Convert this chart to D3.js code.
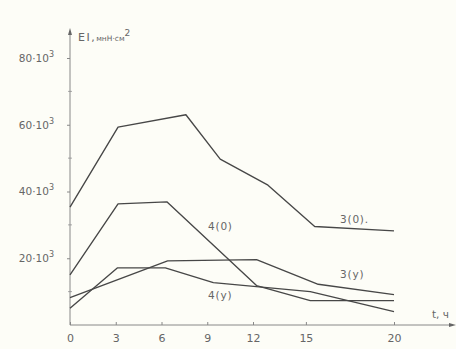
<!DOCTYPE html>
<html>
<head>
<meta charset="utf-8">
<script src="https://cdn.jsdelivr.net/npm/d3@7/dist/d3.min.js"></script>
<style>
  body { margin: 0; background: #fdfdf7; }
  svg { display: block; background: #fdfdf7; }
  text { font-family: "DejaVu Sans", sans-serif; fill: #666; }
  .axis path, .axis line { stroke: #888; stroke-width: 1; }
  .curve { fill: none; stroke: #474747; stroke-width: 1.35; stroke-linejoin: round; }
</style>
</head>
<body>
<svg width="456" height="349"></svg>
<script>
// values (t in hours, EI in 10^3 мнН·см²)
const xTicks = [0, 3, 6, 9, 12, 15, 20];
const yTicks = [20, 40, 60, 80];
const yMinor = [10, 30, 50, 70];

const t3o = [0, 3.15, 7.6, 9.85, 12.85, 15.5, 20];
const v3o = [35.3, 59.3, 63.0, 49.7, 41.9, 29.5, 28.2];

const t4o = [0, 3.15, 6.35, 12.2, 15.25, 20];
const v4o = [15.0, 36.3, 36.9, 11.8, 7.3, 7.3];

const t3y = [0, 6.4, 12.2, 15.7, 20];
const v3y = [8.2, 19.2, 19.6, 12.2, 9.1];

const t4y = [0, 3.1, 6.25, 9.4, 15.25, 20];
const v4y = [5.0, 17.1, 17.1, 12.7, 10.0, 4.0];

const seriesNames = ["3(0).", "4(0)", "3(y)", "4(y)"];

let svg = d3.select("svg");

// hand drawn axis is not quite even, so a piecewise scale
let xScale = d3.scaleLinear().domain([0, 12, 20]).range([70, 253, 394]);
let yScale = d3.scaleLinear().domain([0, 80]).range([325, 58]);

let toPts = function(ts, vs) {
  return ts.map(function(t, i) { return [t, vs[i]]; });
};
let series = [
  { name: seriesNames[0], pts: toPts(t3o, v3o), lx: 340, ly: 223 },
  { name: seriesNames[1], pts: toPts(t4o, v4o), lx: 208, ly: 230 },
  { name: seriesNames[2], pts: toPts(t3y, v3y), lx: 340, ly: 278 },
  { name: seriesNames[3], pts: toPts(t4y, v4y), lx: 208, ly: 299 }
];

// X axis
let xAxis = svg.append("g")
  .attr("class", "axis")
  .attr("transform", "translate(0," + yScale(0) + ")")
  .call(d3.axisBottom(xScale).tickValues(xTicks).tickSize(-3).tickPadding(9));
xAxis.select(".domain").remove();
xAxis.selectAll("text").attr("font-size", 11).attr("fill", "#777");
svg.append("line")
  .attr("x1", 70).attr("x2", 453)
  .attr("y1", yScale(0)).attr("y2", yScale(0))
  .attr("stroke", "#888");
svg.append("path")
  .attr("d", "M456," + yScale(0) + "l-7,-2v4z")
  .attr("fill", "#666");
svg.append("text")
  .attr("x", 432).attr("y", 318)
  .attr("font-size", 10.5)
  .text("t, ч");

// Y axis
let yAxis = svg.append("g")
  .attr("class", "axis")
  .attr("transform", "translate(70,0)")
  .call(d3.axisLeft(yScale).tickValues(yTicks).tickSize(3).tickPadding(7)
    .tickFormat(function(d) { return d + "·10"; }));
yAxis.select(".domain").remove();
yAxis.selectAll("text")
  .attr("font-size", 10.5)
  .attr("fill", "#777")
  .attr("dx", -6)
  .append("tspan")
  .attr("dy", -5)
  .attr("font-size", 8)
  .text("3");
svg.append("g")
  .selectAll("line")
  .data(yMinor)
  .enter()
  .append("line")
  .attr("x1", 68).attr("x2", 72)
  .attr("y1", function(d) { return yScale(d); })
  .attr("y2", function(d) { return yScale(d); })
  .attr("stroke", "#aaa");
svg.append("line")
  .attr("x1", 70).attr("x2", 70)
  .attr("y1", yScale(0)).attr("y2", 32)
  .attr("stroke", "#888");
svg.append("path")
  .attr("d", "M70,28l-2,7h4z")
  .attr("fill", "#666");

let title = svg.append("text").attr("x", 78).attr("y", 41).attr("font-size", 11);
title.append("tspan").attr("letter-spacing", 1.5).text("EI,");
title.append("tspan").attr("font-size", 7.5).text("мнН·см");
title.append("tspan").attr("dy", -5).attr("font-size", 9).text("2");

// CURVES
let line = d3.line()
  .x(function(d) { return xScale(d[0]); })
  .y(function(d) { return yScale(d[1]); });

svg.selectAll(".curve")
  .data(series)
  .enter()
  .append("path")
  .attr("class", "curve")
  .attr("d", function(d) { return line(d.pts); });

// LABELS
svg.selectAll(".label")
  .data(series)
  .enter()
  .append("text")
  .attr("class", "label")
  .attr("x", function(d) { return d.lx; })
  .attr("y", function(d) { return d.ly; })
  .attr("font-size", 10.5)
  .attr("letter-spacing", 0.8)
  .text(function(d) { return d.name; });
</script>
</body>
</html>
